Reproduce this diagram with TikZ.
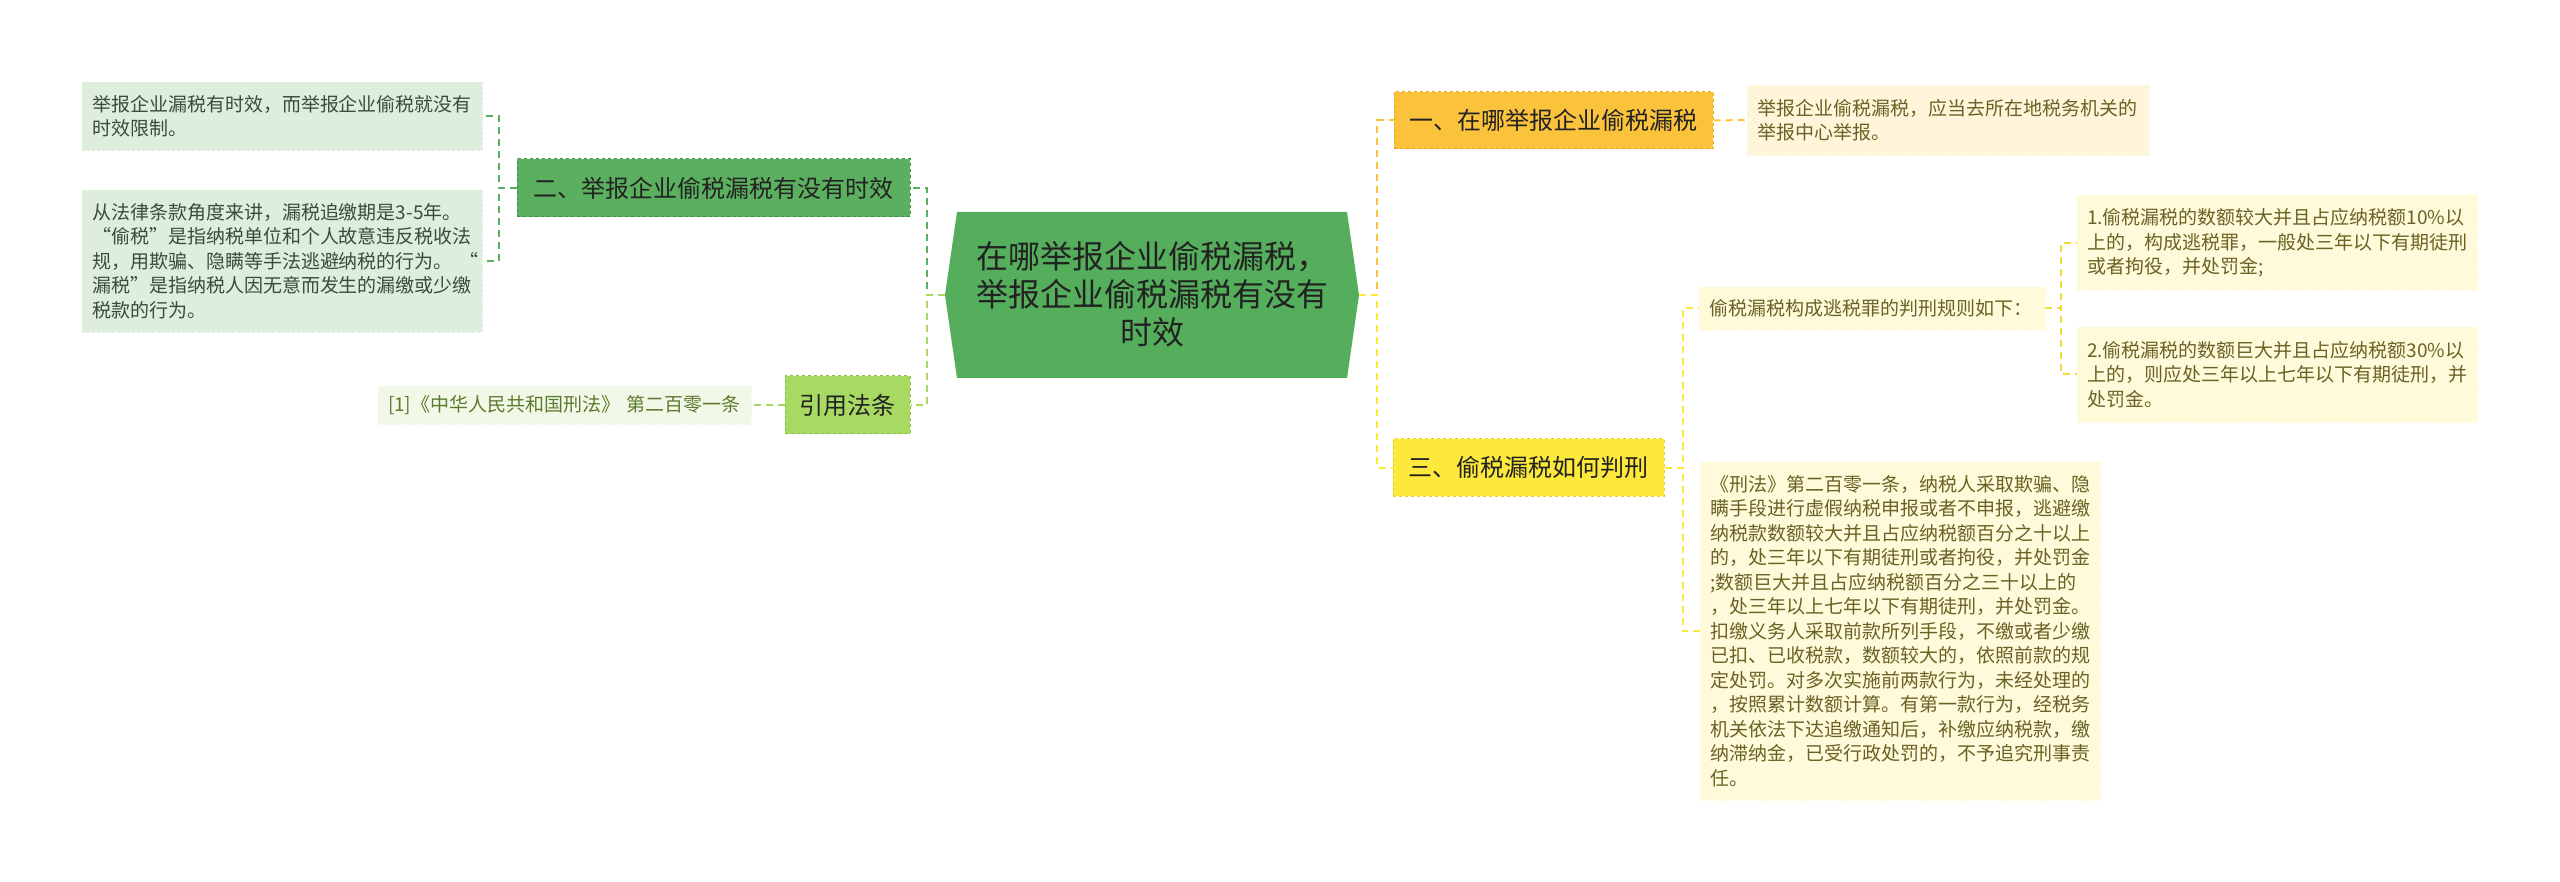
\documentclass[tikz,border=0pt]{standalone}
\usepackage{fontspec}
\setmainfont{Noto Sans CJK SC}
\definecolor{cgreen}{HTML}{55AE5B}
\definecolor{bgreen}{HTML}{5BB05F}
\definecolor{bgreenb}{HTML}{3F8F45}
\definecolor{lgfill}{HTML}{DEEEDC}
\definecolor{lgtext}{HTML}{3C4A3C}
\definecolor{lime}{HTML}{A8D962}
\definecolor{limeb}{HTML}{8CC040}
\definecolor{limefill}{HTML}{F1F8E7}
\definecolor{limetext}{HTML}{5C7A2E}
\definecolor{gold}{HTML}{FBC33C}
\definecolor{goldb}{HTML}{E8AC20}
\definecolor{goldfill}{HTML}{FFF5DA}
\definecolor{yel}{HTML}{FDE83C}
\definecolor{yelb}{HTML}{E8D020}
\definecolor{yfill}{HTML}{FFFADA}
\definecolor{ytext}{HTML}{6A6224}
\definecolor{darktext}{HTML}{222222}
\tikzset{
  box/.style={anchor=center, inner xsep=10pt, inner ysep=0pt, align=left},
  leaf/.style={box, font=\fontsize{19}{24.5}\selectfont, densely dashed, line width=0.6pt},
  topic/.style={box, font=\fontsize{24}{30}\selectfont, text=darktext, dashed, line width=1pt, align=center},
  conn/.style={dash pattern=on 7pt off 5pt, line width=2pt},
}
\begin{document}
\begin{tikzpicture}[x=1pt,y=-1pt]
\useasboundingbox (0,0) rectangle (2560,882);
\fill[white] (0,0) rectangle (2560,882);

% central node
\fill[cgreen] (945,295) -- (957,212) -- (1347,212) -- (1359,295) -- (1347,378) -- (957,378) -- cycle;
\node[align=center, text=darktext, font=\fontsize{32}{38}\selectfont] (c) at (1152,294)
  {在哪举报企业偷税漏税，\\举报企业偷税漏税有没有\\时效};
\coordinate (cL) at (945,295);
\coordinate (cR) at (1359,295);

% left branch
\node[topic, fill=bgreen, draw=bgreenb, minimum width=393pt, minimum height=58pt] (n2) at (713.5,188) {二、举报企业偷税漏税有没有时效};
\node[leaf, fill=lgfill, draw=lgfill, text=lgtext, text width=380pt, minimum height=68pt] (l1) at (282,116)
  {举报企业漏税有时效，而举报企业偷税就没有\\时效限制。};
\node[leaf, fill=lgfill, draw=lgfill, text=lgtext, text width=380pt, minimum height=142pt] (l2) at (282,261)
  {从法律条款角度来讲，漏税追缴期是3-5年。\\\mbox{“偷税”是指纳税单位和个人故意违反税收法}\\\mbox{规，用欺骗、隐瞒等手法逃避纳税的行为。 “}\\\mbox{漏税”是指纳税人因无意而发生的漏缴或少缴}\\税款的行为。};

\node[topic, fill=lime, draw=limeb, minimum width=125pt, minimum height=58pt] (ref) at (847.5,405) {引用法条};
\node[leaf, fill=limefill, draw=limefill, text=limetext, text width=353pt, minimum height=38pt] (rl) at (564.5,405)
  {[1]《中华人民共和国刑法》 第二百零一条};

% right branch
\node[topic, fill=gold, draw=goldb, minimum width=319pt, minimum height=57pt] (n1) at (1553.5,120.5) {一、在哪举报企业偷税漏税};
\node[leaf, fill=goldfill, draw=goldfill, text=ytext, text width=382pt, minimum height=70pt] (g1) at (1948,120)
  {举报企业偷税漏税，应当去所在地税务机关的\\举报中心举报。};

\node[topic, fill=yel, draw=yelb, minimum width=271pt, minimum height=57pt] (n3) at (1528.5,467.5) {三、偷税漏税如何判刑};
\node[leaf, fill=yfill, draw=yfill, text=ytext, text width=326pt, minimum height=43pt] (s) at (1872,308.5)
  {偷税漏税构成逃税罪的判刑规则如下：};
\node[leaf, fill=yfill, draw=yfill, text=ytext, text width=380pt, minimum height=95pt] (k1) at (2277,243)
  {1.偷税漏税的数额较大并且占应纳税额10\%以\\上的，构成逃税罪，一般处三年以下有期徒刑\\或者拘役，并处罚金;};
\node[leaf, fill=yfill, draw=yfill, text=ytext, text width=380pt, minimum height=95pt] (k2) at (2277,374.5)
  {2.偷税漏税的数额巨大并且占应纳税额30\%以\\上的，则应处三年以上七年以下有期徒刑，并\\处罚金。};
\node[leaf, fill=yfill, draw=yfill, text=ytext, text width=380pt, minimum height=338pt] (lg) at (1900,631)
  {《刑法》第二百零一条，纳税人采取欺骗、隐\\瞒手段进行虚假纳税申报或者不申报，逃避缴\\纳税款数额较大并且占应纳税额百分之十以上\\的，处三年以下有期徒刑或者拘役，并处罚金\\;数额巨大并且占应纳税额百分之三十以上的\\，处三年以上七年以下有期徒刑，并处罚金。\\扣缴义务人采取前款所列手段，不缴或者少缴\\已扣、已收税款，数额较大的，依照前款的规\\定处罚。对多次实施前两款行为，未经处理的\\，按照累计数额计算。有第一款行为，经税务\\机关依法下达追缴通知后，补缴应纳税款，缴\\纳滞纳金，已受行政处罚的，不予追究刑事责\\任。};

% connectors left
\draw[conn, draw=bgreen] (cL) -- ++(-18,0) |- (n2.east);
\draw[conn, draw=lime] (cL) -- ++(-18,0) |- (ref.east);
\draw[conn, draw=bgreen] (n2.west) -- ++(-18,0) |- (l1.east);
\draw[conn, draw=bgreen] (n2.west) -- ++(-18,0) |- (l2.east);
\draw[conn, draw=lime] (ref.west) -- (rl.east);

% connectors right
\draw[conn, draw=gold] (cR) -- ++(18,0) |- (n1.west);
\draw[conn, draw=yel] (cR) -- ++(18,0) |- (n3.west);
\draw[conn, draw=gold] (n1.east) -- (g1.west);
\draw[conn, draw=yel] (n3.east) -- ++(18,0) |- (s.west);
\draw[conn, draw=yel] (n3.east) -- ++(18,0) |- (lg.west);
\draw[conn, draw=yel!80!ytext!40!yel] (s.east) -- ++(16,0) |- (k1.west);
\draw[conn, draw=yel!80!ytext!40!yel] (s.east) -- ++(16,0) |- (k2.west);
\end{tikzpicture}
\end{document}
